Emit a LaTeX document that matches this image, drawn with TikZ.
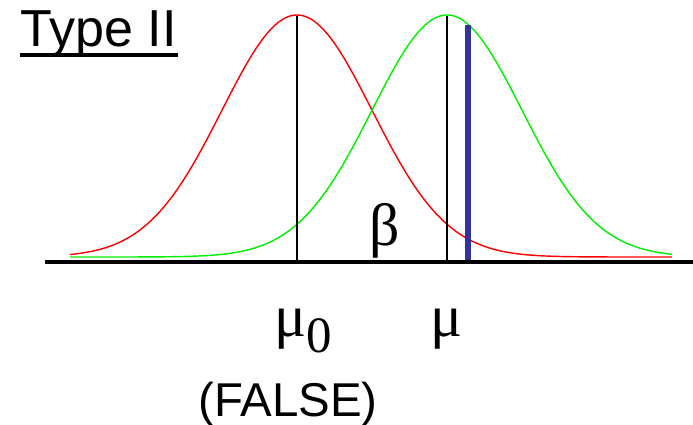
\documentclass[tikz,border=0pt]{standalone}
\usepackage{fontspec}
\setmainfont{Liberation Sans}
\newfontfamily\grkfont{Liberation Serif}
\usepackage{tikz}
\usetikzlibrary{positioning, calc}
\definecolor{myred}{RGB}{255,0,0}
\definecolor{mygreen}{RGB}{0,240,0}
\definecolor{myblue}{RGB}{51,51,153}
\tikzset{
  curve/.style={line width=0.4pt, smooth, samples=120},
  meanline/.style={line width=0.6pt, black},
  axis/.style={line width=1.1pt, black},
  grk/.style={font=\fontsize{17}{17}\selectfont\grkfont, inner sep=0pt},
  lbl/.style={font=\fontsize{13.5}{14}\selectfont, inner sep=0pt}
}

\begin{document}
\begin{tikzpicture}
  \useasboundingbox (0,0) rectangle (6.93,-4.25);
  % Coordinates of the two means and the cut-off
  \coordinate (m0top) at (2.97,-0.16);
  \coordinate (m0bot) at (2.97,-2.62);
  \coordinate (mtop) at (4.47,-0.16);
  \coordinate (mbot) at (4.47,-2.62);
  \coordinate (cuttop) at (4.68,-0.25);
  \coordinate (cutbot) at (4.68,-2.62);
  \coordinate (axl) at (0.45,-2.62);
  \coordinate (axr) at (6.93,-2.62);

  % Two normal curves
  \draw[curve, myred, domain=0.70:6.72]
    plot (\x, {-2.57+2.42*exp(-((\x-2.97)^2)/(2*0.75^2))});
  \draw[curve, mygreen, domain=0.70:6.72]
    plot (\x, {-2.57+2.42*exp(-((\x-4.47)^2)/(2*0.75^2))});

  % Mean lines and cut-off
  \draw[meanline] (m0top) -- (m0bot);
  \draw[meanline] (mtop) -- (mbot);
  \draw[line width=1.7pt, myblue] (cuttop) -- (cutbot);

  % Axis
  \draw[axis] (axl) -- (axr);

  % Labels
  \node[anchor=base west, inner sep=0pt, font=\fontsize{14.8}{15}\selectfont]
    (title) at (0.20,-0.47) {Type II};
  \draw[line width=0.9pt] ($(title.base west)+(0,-0.08)$) -- ($(title.base east)+(0,-0.08)$);
  \node[grk, anchor=base] (beta) at (3.85,-2.46) {β};
  \node[grk, anchor=base] (mu0) at (3.03,-3.37) {μ\raisebox{-0.55ex}{\fontsize{14.5}{14}\selectfont 0}};
  \node[grk, anchor=base] (mu) at (4.47,-3.37) {μ};
  \node[lbl, anchor=base] (false) at (2.88,-4.17) {(FALSE)};
\end{tikzpicture}
\end{document}
